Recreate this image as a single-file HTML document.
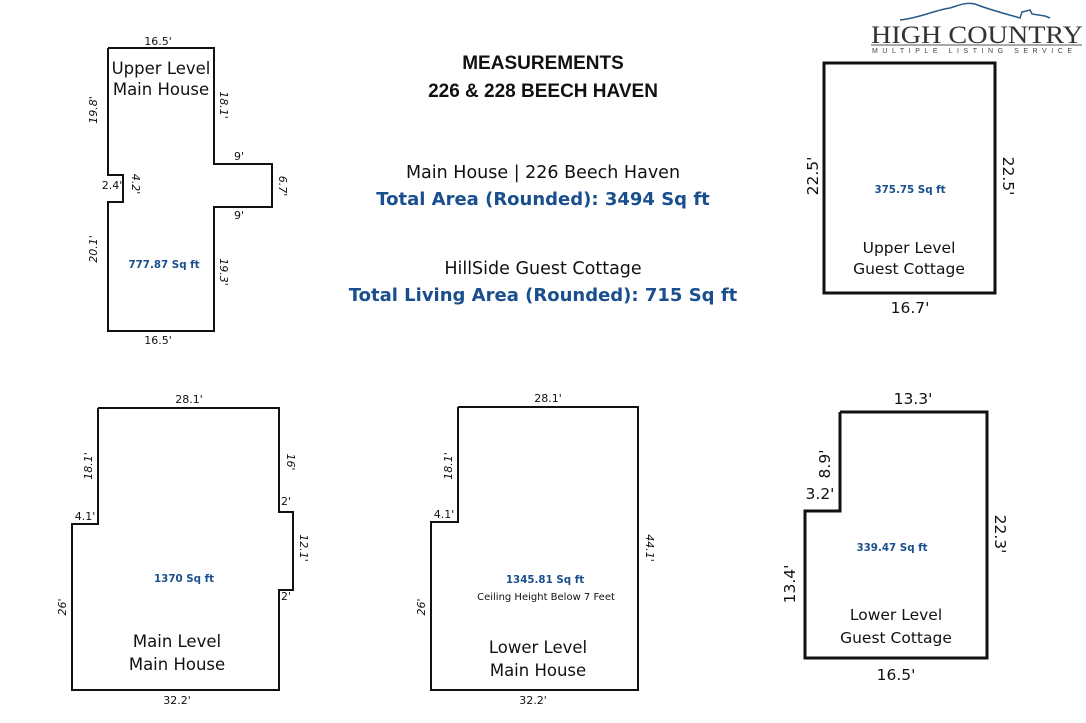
<!DOCTYPE html>
<html><head><meta charset="utf-8"><style>
html,body{margin:0;padding:0;background:#fff;}
svg{display:block;font-family:"DejaVu Sans","Liberation Sans",sans-serif;}
</style></head><body>
<svg width="1086" height="723" viewBox="0 0 1086 723" xmlns="http://www.w3.org/2000/svg">
<g fill="none" stroke="#111" stroke-width="2">
<polyline points="108,48 214,48 214,164 272,164 272,207 214,207 214,331 108,331 108,202 123,202 123,175 108,175 108,48"/>
<polyline points="98,408 279,408 279,512 293,512 293,590 279,590 279,690 72,690 72,524 98,524 98,408"/>
<polyline points="458,407 638,407 638,690 431,690 431,522 458,522 458,407"/>
</g>
<g fill="none" stroke="#111" stroke-width="3">
<rect x="824" y="63" width="171" height="230"/>
<polyline points="840,412 987,412 987,658 805,658 805,511 840,511 840,412"/>
</g>
<path d="M900,20 C920,18 935,10 950,8 C960,5 965,2 975,4 C990,10 1010,15 1020,18 L1022,12 L1030,10 L1032,14 L1045,16 L1050,18" fill="none" stroke="#2a5a8a" stroke-width="1.5"/>
<text x="871" y="43" font-family="Liberation Serif,serif" font-size="25" fill="#333" textLength="212" lengthAdjust="spacingAndGlyphs">HIGH COUNTRY</text>
<line x1="871" y1="45" x2="1082" y2="45" stroke="#555" stroke-width="1"/>
<text x="872" y="53" font-family="Liberation Sans,sans-serif" font-size="7" fill="#444" textLength="200" lengthAdjust="spacing">MULTIPLE LISTING SERVICE</text>
<g font-family="Liberation Sans,sans-serif" font-weight="bold" font-size="19" fill="#111" text-anchor="middle">
<text x="543" y="69">MEASUREMENTS</text>
<text x="543" y="97">226 &amp; 228 BEECH HAVEN</text>
</g>
<g text-anchor="middle">
<text x="543" y="178" font-size="17.5" fill="#111">Main House | 226 Beech Haven</text>
<text x="543" y="205" font-size="18" font-weight="bold" fill="#1a4f8f">Total Area (Rounded): 3494 Sq ft</text>
<text x="543" y="274" font-size="17.5" fill="#111">HillSide Guest Cottage</text>
<text x="543" y="301" font-size="18" font-weight="bold" fill="#1a4f8f">Total Living Area (Rounded): 715 Sq ft</text>
</g>
<g text-anchor="middle" fill="#111" font-size="16.5">
<text x="161" y="74">Upper Level</text><text x="161" y="95">Main House</text>
<text x="177" y="647">Main Level</text><text x="177" y="670">Main House</text>
<text x="538" y="653">Lower Level</text><text x="538" y="676">Main House</text>
</g>
<g text-anchor="middle" fill="#111" font-size="15.5">
<text x="909" y="253">Upper Level</text><text x="909" y="274">Guest Cottage</text>
<text x="896" y="620">Lower Level</text><text x="896" y="643">Guest Cottage</text>
</g>
<g text-anchor="middle" fill="#1a4f8f" font-weight="bold" font-size="10.3">
<text x="164" y="268">777.87 Sq ft</text>
<text x="184" y="582">1370 Sq ft</text>
<text x="545" y="583">1345.81 Sq ft</text>
<text x="910" y="193">375.75 Sq ft</text>
<text x="892" y="551">339.47 Sq ft</text>
</g>
<text x="546" y="600" text-anchor="middle" font-size="10" fill="#111">Ceiling Height Below 7 Feet</text>
<g font-size="11" fill="#111" text-anchor="middle">
<text x="158" y="45">16.5'</text><text x="158" y="344">16.5'</text>
<text x="239" y="160">9'</text><text x="239" y="219">9'</text>
<text x="112" y="189">2.4'</text>
<text x="189" y="403">28.1'</text><text x="177" y="704">32.2'</text>
<text x="286" y="505">2'</text><text x="286" y="600">2'</text>
<text x="85" y="520">4.1'</text>
<text x="548" y="402">28.1'</text><text x="533" y="704">32.2'</text>
<text x="444" y="518">4.1'</text>
<g font-style="italic">
<g transform="translate(97,110) rotate(-90)"><text>19.8'</text></g>
<g transform="translate(97,249) rotate(-90)"><text>20.1'</text></g>
<g transform="translate(132,184) rotate(90)"><text>4.2'</text></g>
<g transform="translate(220,105) rotate(90)"><text>18.1'</text></g>
<g transform="translate(279,186) rotate(90)"><text>6.7'</text></g>
<g transform="translate(220,272) rotate(90)"><text>19.3'</text></g>
<g transform="translate(92,466) rotate(-90)"><text>18.1'</text></g>
<g transform="translate(66,607) rotate(-90)"><text>26'</text></g>
<g transform="translate(287,462) rotate(90)"><text>16'</text></g>
<g transform="translate(300,548) rotate(90)"><text>12.1'</text></g>
<g transform="translate(452,466) rotate(-90)"><text>18.1'</text></g>
<g transform="translate(425,607) rotate(-90)"><text>26'</text></g>
<g transform="translate(646,548) rotate(90)"><text>44.1'</text></g>
</g>
</g>
<g font-size="15.5" fill="#111" text-anchor="middle">
<text x="910" y="313">16.7'</text>
<text x="913" y="404">13.3'</text>
<text x="896" y="680">16.5'</text>
<text x="820" y="499">3.2'</text>
<g transform="translate(818,176) rotate(-90)"><text>22.5'</text></g>
<g transform="translate(1003,176) rotate(90)"><text>22.5'</text></g>
<g transform="translate(830,464) rotate(-90)"><text>8.9'</text></g>
<g transform="translate(795,584) rotate(-90)"><text>13.4'</text></g>
<g transform="translate(995,534) rotate(90)"><text>22.3'</text></g>
</g>
</svg>
</body></html>
